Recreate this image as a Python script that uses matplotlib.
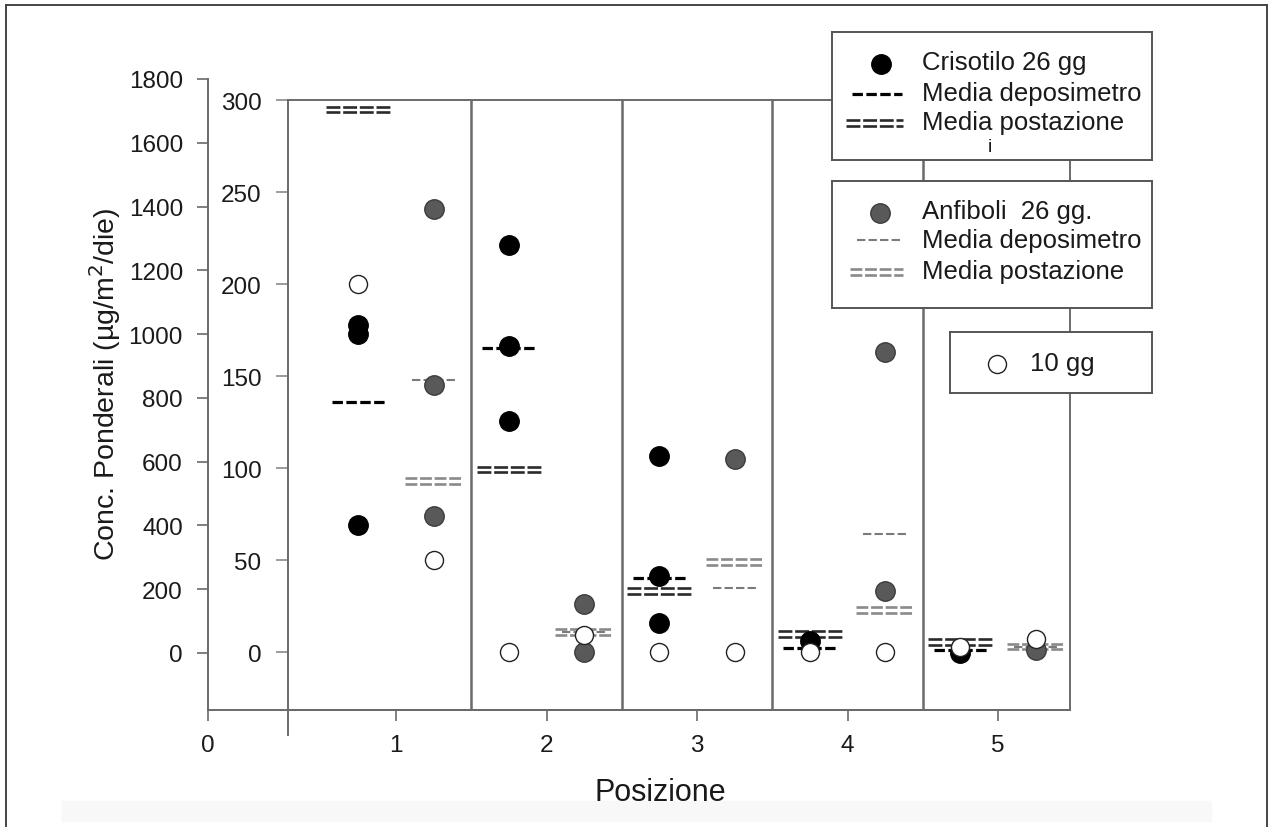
#!/usr/bin/env python3
"""
plot.py

Concentrazioni ponderali (crisotilo e anfiboli) per posizione, con le medie
del deposimetro e della postazione. Crisotilo sull'asse esterno (0-1800),
anfiboli e campioni 10 gg sull'asse interno (0-300).
Salva la figura in "out.png".
"""

import matplotlib
matplotlib.use("Agg")
import matplotlib.pyplot as plt
from matplotlib.transforms import offset_copy
from matplotlib.patches import Rectangle
from matplotlib.lines import Line2D

# --- Configuration ---
OUTPUT_PLOT = "out.png"
W, H = 1269, 828
FONT = "Liberation Sans"
TEXT_COLOR = "#1a1a1a"
AXIS_COLOR = "#6a6a6a"
TICK_SIZE = 17.5
LEGEND_SIZE = 18.5

# --- Data ---
POSITIONS = [1, 2, 3, 4, 5]
# Crisotilo 26 gg -> outer axis (0-1800)
CRISOTILO = [[1030, 1000, 400], [1278, 964, 726], [618, 241, 94], [38], [0]]
CRISOTILO_MEDIA_DEP = [787, 957, 235, 15, 10]
CRISOTILO_MEDIA_POST = [1704, 575, 195, 60, 35]
# Anfiboli 26 gg -> inner axis (0-300)
ANFIBOLI = [[241, 145, 74], [26, 0], [105], [163, 33], [1]]
ANFIBOLI_MEDIA_DEP = [148, 11, 35, 64, 3]
ANFIBOLI_MEDIA_POST = [93, 11, 49, 23, 3]
# 10 gg -> inner axis, one next to each column
GG10_CRIS = [200, 0, 0, 0, 3]
GG10_ANF = [50, 9, 0, 0, 7]

LEFT_TICKS = list(range(0, 1801, 200))
INNER_TICKS = list(range(0, 301, 50))
X_TICKS = [-0.25, 1, 2, 3, 4, 5]
X_TICK_LABELS = ["0", "1", "2", "3", "4", "5"]
DIVIDERS = [1.5, 2.5, 3.5, 4.5]

plt.rcParams["font.family"] = [FONT, "DejaVu Sans"]
plt.rcParams["lines.scale_dashes"] = False


def px_axes(fig, x0, y0, x1, y1, **kw):
    """Axes placed by pixel box (origin top-left)."""
    return fig.add_axes([x0 / W, 1 - y1 / H, (x1 - x0) / W, (y1 - y0) / H], **kw)


def draw_mean(ax, x, y, half, color, lw, dashes, double=False, gap=2.8):
    """Dashed mean marker; double=True draws the '====' style."""
    offsets = (-gap, gap) if double else (0,)
    for dy in offsets:
        tr = offset_copy(ax.transData, fig=ax.figure, y=dy, units="dots")
        ax.plot([x - half, x + half], [y, y], color=color, lw=lw,
                dashes=dashes, transform=tr, zorder=3)


def dot(ax, x, y, kind, ms=14.0):
    styles = {
        "black": dict(mfc="black", mec="black", mew=1.0),
        "grey": dict(mfc="#595959", mec="#3c3c3c", mew=1.0),
        "white": dict(mfc="white", mec="#222222", mew=1.0),
    }
    ax.plot([x], [y], "o", ms=ms, zorder=4, **styles[kind])


def style_spines(ax, which):
    for name, sp in ax.spines.items():
        sp.set_visible(name in which)
        sp.set_color(AXIS_COLOR)
        sp.set_linewidth(1.4)


def legend_box(fig, x0, y0, x1, y1):
    ax = px_axes(fig, x0, y0, x1, y1)
    ax.set_xlim(x0, x1)
    ax.set_ylim(y1, y0)
    ax.set_xticks([])
    ax.set_yticks([])
    for sp in ax.spines.values():
        sp.set_color("#555555")
        sp.set_linewidth(1.4)
    return ax


def main():
    fig = plt.figure(figsize=(W / 100, H / 100), dpi=100)

    # outer frame and the faint band at the bottom
    fig.add_artist(Rectangle((62 / W, 1 - 822 / H), 1149 / W, 20 / H,
                             transform=fig.transFigure, color="#f8f8f8", zorder=0))
    for xs, ys in [((6, 6), (6, 830)), ((6, 1267), (6, 6)), ((1267, 1267), (6, 830))]:
        fig.add_artist(Line2D([x / W for x in xs], [1 - y / H for y in ys],
                              color="#444444", lw=1.4))

    # outer axis 0-1800
    ax_left = px_axes(fig, 208, 80, 1070, 711)
    ax_left.patch.set_alpha(0)
    ax_left.set_xlim(-0.25, 5.478)
    ax_left.set_ylim(-179, 1800)
    style_spines(ax_left, ("left", "bottom"))
    ax_left.set_yticks(LEFT_TICKS)
    ax_left.set_xticks(X_TICKS)
    ax_left.set_xticklabels(X_TICK_LABELS)
    ax_left.tick_params(axis="both", direction="out", length=8, width=1.2,
                        color=AXIS_COLOR, labelsize=TICK_SIZE, labelcolor=TEXT_COLOR)
    ax_left.tick_params(axis="y", pad=10)
    ax_left.tick_params(axis="x", pad=9)

    # inner boxed axis 0-300
    ax_in = px_axes(fig, 288, 101, 1070, 711)
    ax_in.patch.set_alpha(0)
    ax_in.set_xlim(0.282, 5.478)
    ax_in.set_ylim(-31.5, 300)
    style_spines(ax_in, ("left", "right", "top", "bottom"))
    ax_in.set_xticks([])
    ax_in.set_yticks(INNER_TICKS)
    ax_in.tick_params(axis="y", direction="out", length=9, width=1.2,
                      color="#8a8a8a", labelsize=TICK_SIZE, labelcolor=TEXT_COLOR, pad=10)
    ax_in.plot([0, 0], [0, -0.041], transform=ax_in.transAxes, clip_on=False,
               color=AXIS_COLOR, lw=1.4)
    for xd in DIVIDERS:
        ax_in.axvline(xd, color=AXIS_COLOR, lw=1.8, zorder=2)

    # crisotilo on the outer scale
    for pos, vals, dep, post in zip(POSITIONS, CRISOTILO, CRISOTILO_MEDIA_DEP,
                                    CRISOTILO_MEDIA_POST):
        xc = pos - 0.25
        for v in vals:
            dot(ax_left, xc, v, "black")
        draw_mean(ax_left, xc, dep, 0.176, "black", 2.3, (7.5, 2.5))
        draw_mean(ax_left, xc, post, 0.215, "#2a2a2a", 1.9, (10.0, 2.0), double=True)

    # anfiboli on the inner scale
    for pos, vals, dep, post in zip(POSITIONS, ANFIBOLI, ANFIBOLI_MEDIA_DEP,
                                    ANFIBOLI_MEDIA_POST):
        xa = pos + 0.25
        for v in vals:
            dot(ax_in, xa, v, "grey")
        draw_mean(ax_in, xa, dep, 0.146, "#7a7a7a", 1.5, (6.0, 2.3))
        draw_mean(ax_in, xa, post, 0.193, "#8a8a8a", 1.9, (8.5, 2.0), double=True)

    # 10 gg
    for pos, vc, va in zip(POSITIONS, GG10_CRIS, GG10_ANF):
        dot(ax_in, pos - 0.25, vc, "white", ms=13)
        dot(ax_in, pos + 0.25, va, "white", ms=13)

    # axis labels
    fig.text(105 / W, 1 - 384 / H, "Conc. Ponderali (µg/m$^2$/die)", rotation=90,
             ha="center", va="center", fontsize=20.5, color=TEXT_COLOR)
    fig.text(660 / W, 1 - 793 / H, "Posizione", ha="center", va="center",
             fontsize=22, color=TEXT_COLOR)

    # legend boxes
    fs = LEGEND_SIZE
    lg1 = legend_box(fig, 832, 33, 1152, 161)
    lg1.plot([881], [65], "o", ms=14, mfc="black", mec="black")
    lg1.plot([852, 902], [95, 95], color="black", lw=2.3, dashes=(7.5, 2.5))
    for dy in (-2.8, 2.8):
        lg1.plot([846, 903], [124 + dy, 124 + dy], color="#2a2a2a", lw=1.9,
                 dashes=(10.0, 2.0))
    lg1.text(922, 63, "Crisotilo 26 gg", va="center", fontsize=fs, color=TEXT_COLOR)
    lg1.text(922, 94, "Media deposimetro", va="center", fontsize=fs, color=TEXT_COLOR)
    lg1.text(922, 123, "Media postazione", va="center", fontsize=fs, color=TEXT_COLOR)
    lg1.text(990, 147, "i", ha="center", va="center", fontsize=14, color=TEXT_COLOR)

    lg2 = legend_box(fig, 832, 182, 1152, 309)
    lg2.plot([880], [214], "o", ms=14, mfc="#595959", mec="#3c3c3c")
    lg2.plot([857, 900], [241, 241], color="#7a7a7a", lw=1.5, dashes=(6.0, 2.3))
    for dy in (-2.8, 2.8):
        lg2.plot([850, 903], [273 + dy, 273 + dy], color="#8a8a8a", lw=1.9,
                 dashes=(8.5, 2.0))
    lg2.text(922, 212, "Anfiboli  26 gg.", va="center", fontsize=fs, color=TEXT_COLOR)
    lg2.text(922, 241, "Media deposimetro", va="center", fontsize=fs, color=TEXT_COLOR)
    lg2.text(922, 272, "Media postazione", va="center", fontsize=fs, color=TEXT_COLOR)

    lg3 = legend_box(fig, 950, 333, 1152, 394)
    lg3.plot([997], [365], "o", ms=13, mfc="white", mec="#222222")
    lg3.text(1030, 364, "10 gg", va="center", fontsize=fs, color=TEXT_COLOR)

    fig.savefig(OUTPUT_PLOT, dpi=100)
    print(f"Plot saved to {OUTPUT_PLOT}")


if __name__ == "__main__":
    main()
